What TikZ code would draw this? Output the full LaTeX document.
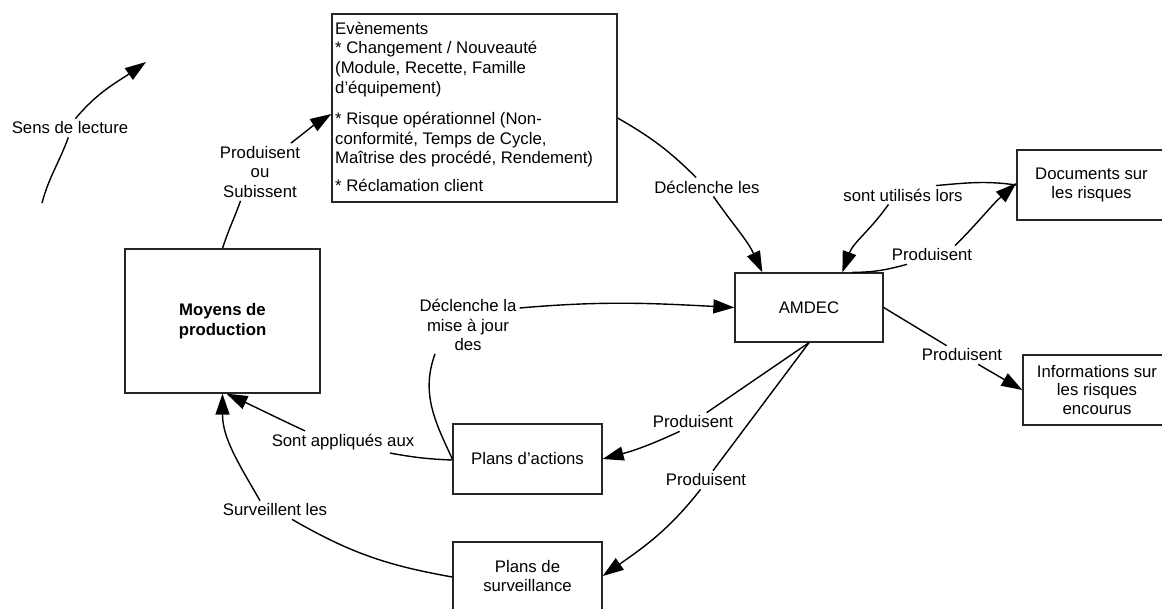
\documentclass[tikz,border=0pt]{standalone}
\usepackage{fontspec}
\setmainfont{Liberation Sans}
\usetikzlibrary{arrows.meta}
\begin{document}
\begin{tikzpicture}[x=1pt,y=-1pt,
  every node/.style={font=\fontsize{16.75}{19.5}\selectfont},
  box/.style={draw=black!85, line width=1.3pt, rectangle, inner sep=0pt, align=center},
  lbl/.style={align=center, inner sep=3pt},
  conn/.style={line width=1.4pt},
  arr/.style={line width=1.4pt, -{Triangle[length=21pt,width=14pt]}},
]
\useasboundingbox (0,0) rectangle (1162,608);
\clip (0,0) rectangle (1162,608);
\fill[white] (0,0) rectangle (1162,608);

% boxes
\node[box, minimum width=285pt, minimum height=188pt] (events) at (474.5,108) {};
\node[anchor=north west, inner sep=0pt, align=left, font=\fontsize{16.75}{19.8}\selectfont] (evtxt) at (335,21.5) {Evènements\\* Changement / Nouveauté\\(Module, Recette, Famille\\d’équipement)\\[11pt]* Risque opérationnel (Non-\\conformité, Temps de Cycle,\\Maîtrise des procédé, Rendement)\\[8pt]* Réclamation client};
\node[box, minimum width=195pt, minimum height=144pt, font=\fontsize{16.75}{19.5}\selectfont\bfseries] (moyens) at (222.5,321) {Moyens de\\production};
\node[box, minimum width=148pt, minimum height=69pt] (amdec) at (809,307.5) {AMDEC};
\node[box, minimum width=149pt, minimum height=70pt] (docs) at (1091.5,185) {Documents sur\\les risques};
\node[box, minimum width=148pt, minimum height=70pt, font=\fontsize{16.75}{18.5}\selectfont] (infos) at (1097,390) {Informations sur\\les risques\\encourus};
\node[box, minimum width=149pt, minimum height=70pt] (actions) at (527.5,459) {Plans d’actions};
\node[box, minimum width=149pt, minimum height=68pt] (surv) at (527.5,576) {Plans de\\surveillance};

% labels
\node[lbl] (sens) at (70,128) {Sens de lecture};
\node[lbl] (prodsub) at (260,172) {Produisent\\ou\\Subissent};
\node[lbl] (decl) at (707,187) {Déclenche les};
\node[lbl] (util) at (903,195) {sont utilisés lors};
\node[lbl] (prodD) at (932,255) {Produisent};
\node[lbl] (prodI) at (962,355) {Produisent};
\node[lbl] (prodA) at (693,422) {Produisent};
\node[lbl] (prodS) at (706,480) {Produisent};
\node[lbl] (maj) at (468,325) {Déclenche la\\mise à jour\\des};
\node[lbl] (appl) at (343,442) {Sont appliqués aux};
\node[lbl] (surl) at (275,510) {Surveillent les};

\coordinate (s1) at (42,203);
\coordinate (s2) at (146,62);

% connectors
\draw[conn] (s1) to[out=75,in=-110] (sens.-100);
\draw[arr] (sens.60) to[out=50,in=-145] (s2);

\draw[conn] (moyens.north) to[out=72,in=-110] (prodsub.-124);
\draw[arr] (prodsub.43) to[out=38,in=-148] ([yshift=-6pt]events.west);

\draw[conn] ([yshift=-10pt]events.east) to[out=-30,in=135] (decl.139);
\draw[arr] (decl.-56) to[out=-55,in=115] ([xshift=28pt]amdec.north west);

\draw[conn] (docs.west) to[out=172,in=5] (util.16);
\draw[arr] (util.-147) to[out=-125,in=70] ([xshift=108pt]amdec.north west);

\draw[conn] ([xshift=118pt]amdec.north west) to[out=0,in=195] ([xshift=-25pt]prodD.south);
\draw[arr] ([xshift=23pt]prodD.north) to[out=45,in=-138] ([yshift=2pt]docs.west);

\draw[conn] (amdec.east) -- (prodI);
\draw[arr] (prodI) -- (infos.west);

\draw[conn] (amdec.south) -- (prodA);
\draw[arr] (prodA.-145) to[out=-155,in=15] (actions.east);

\draw[conn] (amdec.south) -- (prodS);
\draw[arr] (prodS.-120) to[out=-128,in=35] (surv.east);

\draw[arr] ([yshift=17pt]maj.east) to[out=5,in=177] (amdec.west);
\draw[conn] (actions.west) to[out=115,in=-110] ([xshift=-33pt]maj.south);

\draw[conn] ([yshift=-1pt]actions.west) to[out=178,in=-10] ([xshift=47pt]appl.south);
\draw[arr] ([xshift=-38pt]appl.north) to[out=155,in=-25] ([xshift=4pt]moyens.south);

\draw[conn] ([yshift=-1pt]surv.west) to[out=170,in=-30] ([xshift=17pt]surl.south);
\draw[arr] ([xshift=-15pt]surl.north) to[out=120,in=-90] (moyens.south);
\end{tikzpicture}
\end{document}
